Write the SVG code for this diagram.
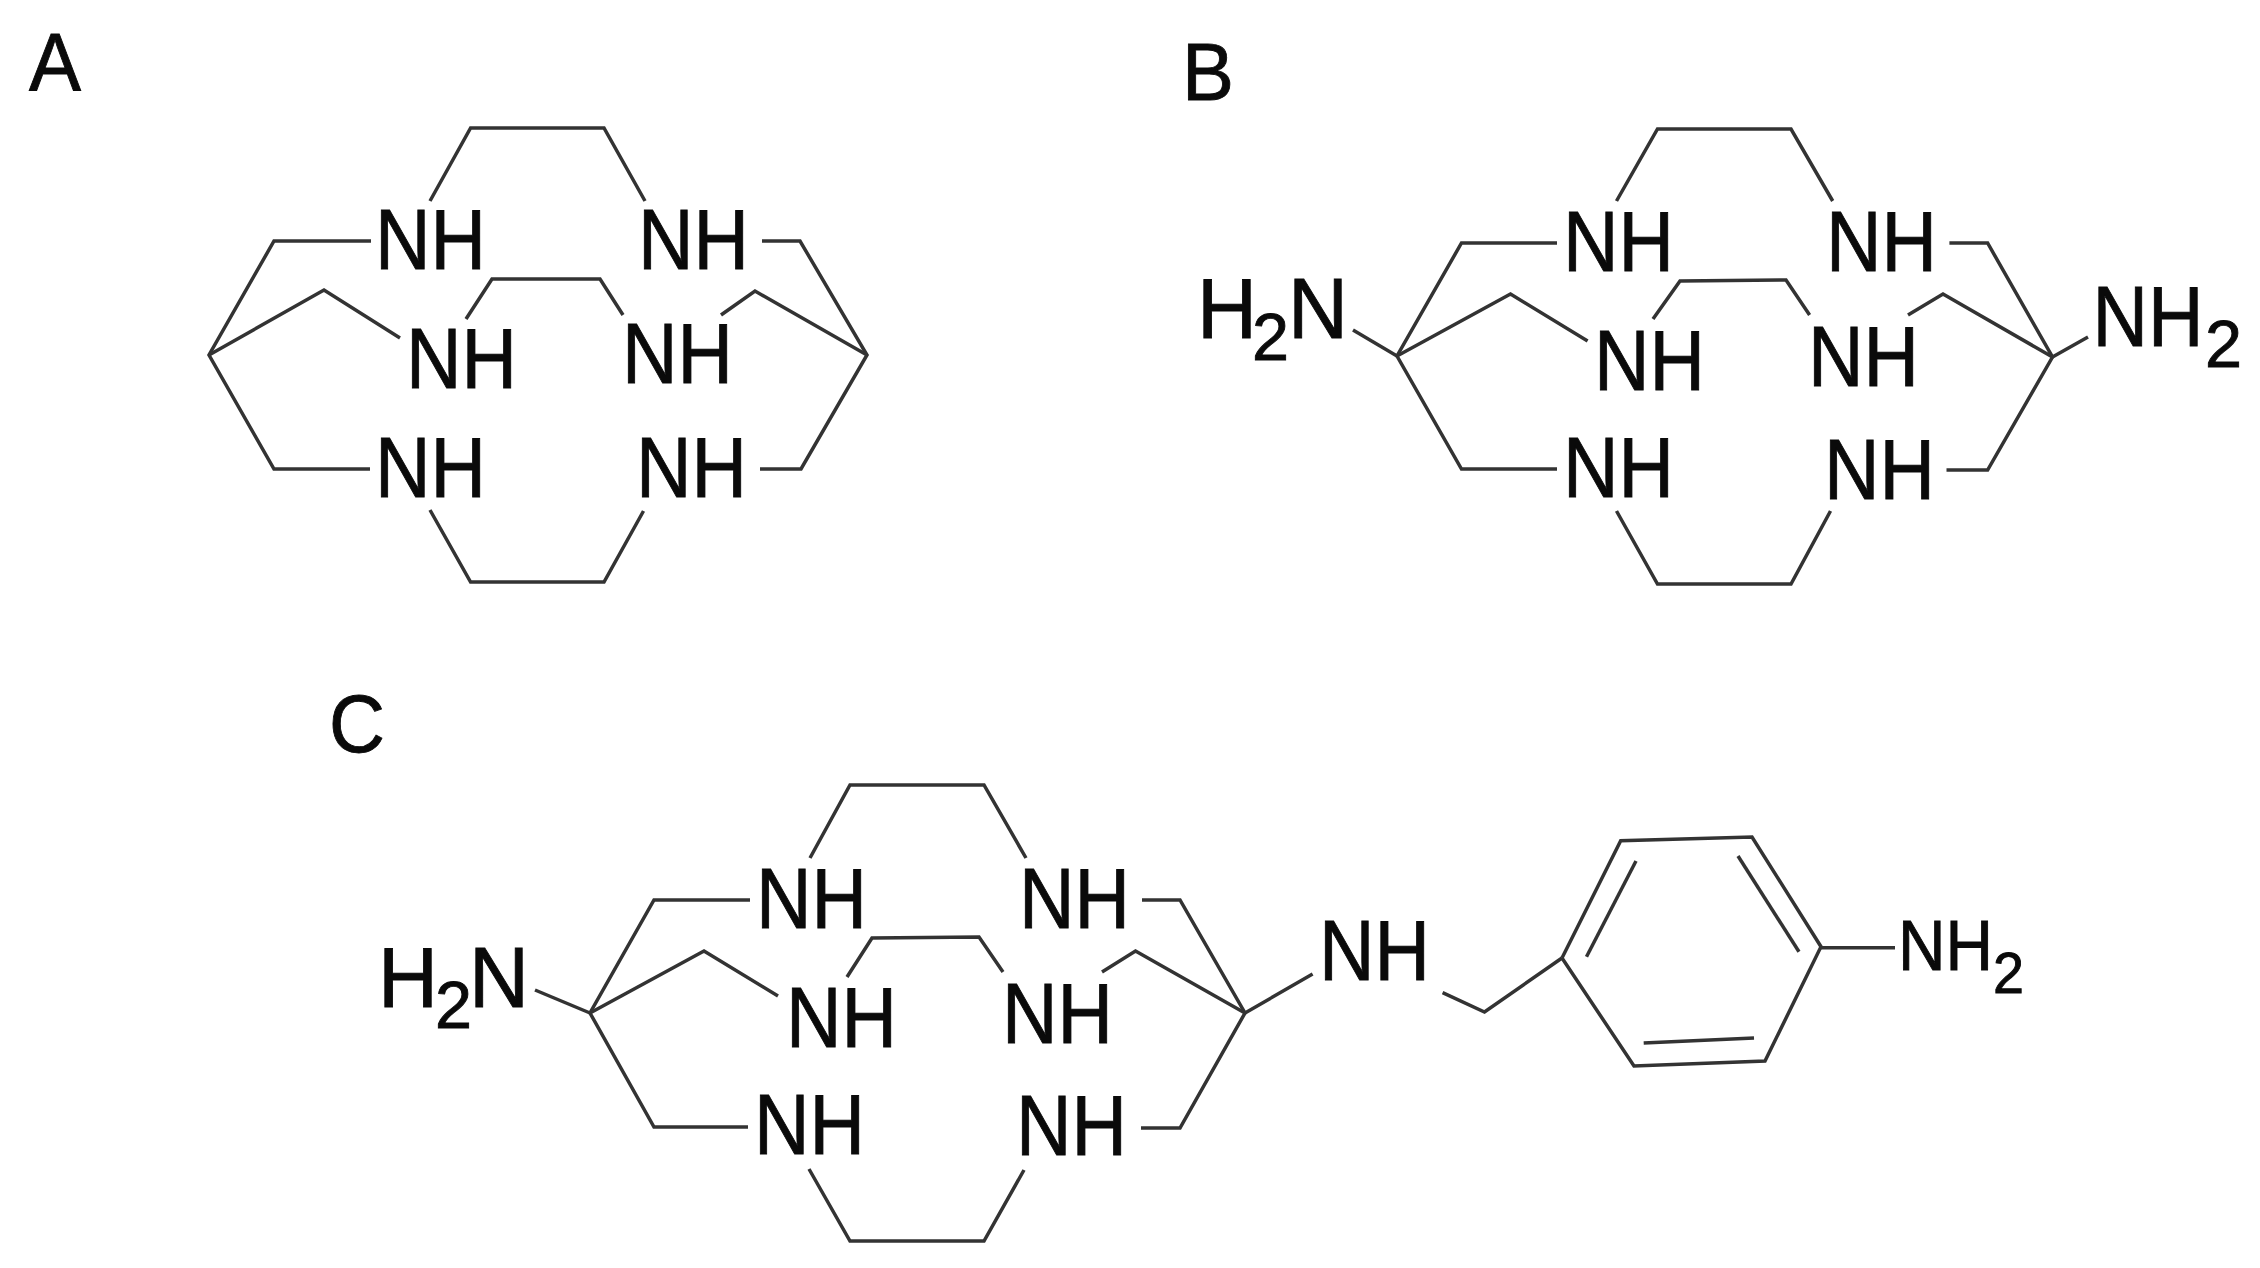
<svg xmlns="http://www.w3.org/2000/svg" width="2260" height="1268" viewBox="0 0 2260 1268">
<style>
text{font-family:"Liberation Sans",Arial,sans-serif;fill:#0a0a0a;stroke:#0a0a0a;stroke-width:.9}
.nh{font-size:86px}
.lab{font-size:82px}
.sub{font-size:66px}
.sub-small{font-size:58px}
.nh2{font-size:70px}
polyline,line{fill:none;stroke:#333;stroke-width:3.5;stroke-linejoin:miter;stroke-linecap:butt}
</style>
<rect width="2260" height="1268" fill="#fff"/>
<g id="connectors">
<g id="bonds-a">
<polyline points="430,201 470.6,128 604,128 645,201"/>
<polyline points="371,241 274,241 209,355 274,469 370,469"/>
<polyline points="762,241 800,241 867,355 801,469 760,469"/>
<polyline points="430,510 470.6,582 604,582 643.5,511"/>
<polyline points="209,355 324,290 400,338"/>
<polyline points="466,319 492,279 600,279 623,315"/>
<polyline points="721,315 755,291 867,355"/>
</g>
<g id="bonds-b">
<polyline points="1353,330 1397,356"/>
<polyline points="1557,243 1461.5,243 1397,356 1461.5,469 1557,469"/>
<polyline points="1616.5,201 1657.5,129 1791,129 1832.7,201"/>
<polyline points="1949.4,243 1987.6,243 2052.5,357 1987.6,470 1946.5,470"/>
<polyline points="1397,356 1510.5,294 1587.6,341"/>
<polyline points="1653,319 1680,281 1786,280 1809.6,315"/>
<polyline points="1908,315 1943,294 2052.5,357 2088,337"/>
<polyline points="1616.5,511 1657.5,584 1791,584 1830.5,511"/>
</g>
<g id="bonds-c">
<polyline points="535,990 590,1013"/>
<polyline points="750,900 654,900 590,1013 654,1127 748,1127"/>
<polyline points="810,858 850,785 984,785 1026,858"/>
<polyline points="1142,900 1180,900 1245,1013 1180,1128 1141,1128"/>
<polyline points="590,1013 704,951 778,996"/>
<polyline points="847,977 872,938 979,937 1003,972"/>
<polyline points="1102,972 1135.5,951 1245,1013 1312.6,974"/>
<polyline points="809,1169 850,1241 984,1241 1024,1170"/>
<polyline points="1442.6,992.7 1484.5,1012 1562,958"/>
<polyline points="1562,958 1620.7,840.7 1752,837 1821,946.7 1765,1061 1634,1066 1562,958"/>
<line x1="1586.5" y1="956.7" x2="1636" y2="861"/>
<line x1="1738" y1="856" x2="1799" y2="951.7"/>
<line x1="1643.7" y1="1043" x2="1754" y2="1038"/>
<line x1="1821" y1="947.7" x2="1895" y2="947.7"/>
</g>
</g>
<g id="label-a"><text class="lab" x="29" y="90" textLength="52" lengthAdjust="spacingAndGlyphs">A</text></g>
<g id="a-nh-1"><text class="nh" x="375" y="269" textLength="111" lengthAdjust="spacingAndGlyphs">NH</text></g>
<g id="a-nh-2"><text class="nh" x="638" y="269" textLength="111" lengthAdjust="spacingAndGlyphs">NH</text></g>
<g id="a-nh-3"><text class="nh" x="406" y="388" textLength="111" lengthAdjust="spacingAndGlyphs">NH</text></g>
<g id="a-nh-4"><text class="nh" x="622" y="383" textLength="111" lengthAdjust="spacingAndGlyphs">NH</text></g>
<g id="a-nh-5"><text class="nh" x="375" y="497" textLength="111" lengthAdjust="spacingAndGlyphs">NH</text></g>
<g id="a-nh-6"><text class="nh" x="636" y="497" textLength="111" lengthAdjust="spacingAndGlyphs">NH</text></g>
<g id="label-b"><text class="lab" x="1182" y="100" textLength="52" lengthAdjust="spacingAndGlyphs">B</text></g>
<g id="b-h2n"><text class="nh" x="1197" y="337.5" textLength="60" lengthAdjust="spacingAndGlyphs">H</text><text class="sub" x="1252" y="360" textLength="37" lengthAdjust="spacingAndGlyphs">2</text><text class="nh" x="1288" y="337.5" textLength="60" lengthAdjust="spacingAndGlyphs">N</text></g>
<g id="b-nh2"><text class="nh" x="2092.5" y="346" textLength="111" lengthAdjust="spacingAndGlyphs">NH</text><text class="sub" x="2205" y="367" textLength="37" lengthAdjust="spacingAndGlyphs">2</text></g>
<g id="b-nh-1"><text class="nh" x="1563" y="271" textLength="111" lengthAdjust="spacingAndGlyphs">NH</text></g>
<g id="b-nh-2"><text class="nh" x="1826" y="271" textLength="111" lengthAdjust="spacingAndGlyphs">NH</text></g>
<g id="b-nh-3"><text class="nh" x="1594" y="390" textLength="111" lengthAdjust="spacingAndGlyphs">NH</text></g>
<g id="b-nh-4"><text class="nh" x="1808" y="386" textLength="111" lengthAdjust="spacingAndGlyphs">NH</text></g>
<g id="b-nh-5"><text class="nh" x="1563" y="497" textLength="111" lengthAdjust="spacingAndGlyphs">NH</text></g>
<g id="b-nh-6"><text class="nh" x="1824" y="499" textLength="111" lengthAdjust="spacingAndGlyphs">NH</text></g>
<g id="label-c"><text class="lab" x="329" y="752" textLength="56" lengthAdjust="spacingAndGlyphs">C</text></g>
<g id="c-h2n"><text class="nh" x="378" y="1006.5" textLength="60" lengthAdjust="spacingAndGlyphs">H</text><text class="sub" x="435" y="1028" textLength="37" lengthAdjust="spacingAndGlyphs">2</text><text class="nh" x="469" y="1006.5" textLength="60" lengthAdjust="spacingAndGlyphs">N</text></g>
<g id="c-nh-1"><text class="nh" x="756" y="928" textLength="111" lengthAdjust="spacingAndGlyphs">NH</text></g>
<g id="c-nh-2"><text class="nh" x="1019" y="928" textLength="111" lengthAdjust="spacingAndGlyphs">NH</text></g>
<g id="c-nh-3"><text class="nh" x="786" y="1047" textLength="111" lengthAdjust="spacingAndGlyphs">NH</text></g>
<g id="c-nh-4"><text class="nh" x="1002" y="1043" textLength="111" lengthAdjust="spacingAndGlyphs">NH</text></g>
<g id="c-nh-5"><text class="nh" x="754" y="1154" textLength="111" lengthAdjust="spacingAndGlyphs">NH</text></g>
<g id="c-nh-6"><text class="nh" x="1016" y="1155" textLength="111" lengthAdjust="spacingAndGlyphs">NH</text></g>
<g id="c-nh-7"><text class="nh" x="1319" y="980" textLength="111" lengthAdjust="spacingAndGlyphs">NH</text></g>
<g id="c-nh2"><text class="nh2" x="1898" y="970" textLength="95" lengthAdjust="spacingAndGlyphs">NH</text><text class="sub-small" x="1993" y="993" textLength="31" lengthAdjust="spacingAndGlyphs">2</text></g>
</svg>
